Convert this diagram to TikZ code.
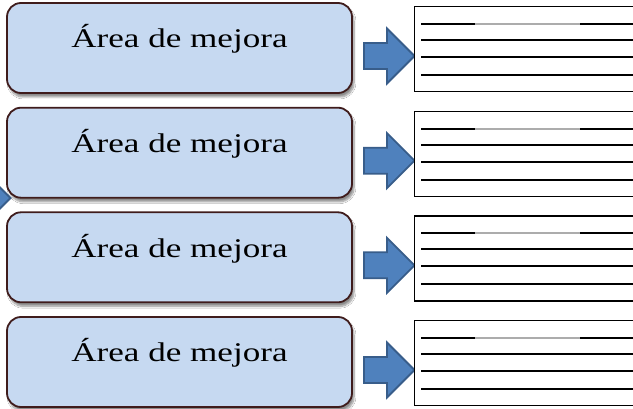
\documentclass[tikz,border=0pt]{standalone}
\usepackage{fontspec}
\setmainfont{Liberation Serif}[FakeStretch=1.3]
\usetikzlibrary{shadows.blur,positioning}
\definecolor{boxfill}{HTML}{C6D9F1}
\definecolor{boxline}{HTML}{3F1C1C}
\definecolor{arrowfill}{HTML}{4F81BD}
\definecolor{arrowline}{HTML}{385D8A}
\tikzset{
  area/.style={draw=boxline, line width=1.8pt, fill=boxfill, rounded corners=14pt,
    minimum width=345pt, minimum height=90pt, inner sep=0pt,
    blur shadow={shadow xshift=2pt, shadow yshift=-4pt, shadow opacity=45, shadow blur steps=8}},
  areatext/.style={font=\fontsize{27}{30}\selectfont, anchor=base, inner sep=0pt},
  pusharrow/.pic={
    \draw[draw=arrowline, fill=arrowfill, line width=1.8pt, line join=miter]
      (-25,-13) -- (-2,-13) -- (-2,-27.5) -- (25.5,0) -- (-2,27.5) -- (-2,13) -- (-25,13) -- cycle;
  },
  sheet/.style={draw=black, line width=1.4pt, fill=white, minimum width=240pt,
    minimum height=85pt, anchor=north west, inner sep=0pt},
  rule/.style={line width=2pt}
}
\begin{document}
\begin{tikzpicture}[x=1pt, y=-1pt]
        \clip (0,0) rectangle (633,409);
        \fill[white] (0,0) rectangle (633,409);

        \node[area] (a1) at (179.5,48) {};
        \node[area] (a2) at (179.5,152.7) {};
        \node[area] (a3) at (179.5,257.3) {};
        \node[area] (a4) at (179.5,362) {};

        \node[areatext] (t1) at (a1.center) {Área de mejora};
        \node[areatext] (t2) at (a2.center) {Área de mejora};
        \node[areatext] (t3) at (a3.center) {Área de mejora};
        \node[areatext] (t4) at (a4.center) {Área de mejora};

        \pic (p0) at (-15,198) {pusharrow};
        \pic (p1) at (389,56) {pusharrow};
        \pic (p2) at (389,160.7) {pusharrow};
        \pic (p3) at (389,265.3) {pusharrow};
        \pic (p4) at (389,370) {pusharrow};

        \node[sheet] (s1) at (414,6) {};
        \node[sheet] (s2) at (414,110.7) {};
        \node[sheet] (s3) at (414,215.3) {};
        \node[sheet] (s4) at (414,320) {};

        \foreach \s in {1,...,4} {
            \foreach \d in {18,34,51,69}
                \draw[rule] ([xshift=7pt,yshift=-\d pt]s\s.north west) -- ([yshift=-\d pt]s\s.north east);
            \draw[rule, draw=gray!65] ([xshift=61pt,yshift=-18pt]s\s.north west) -- ([xshift=166pt,yshift=-18pt]s\s.north west);
        }
    \end{tikzpicture}
\end{document}
